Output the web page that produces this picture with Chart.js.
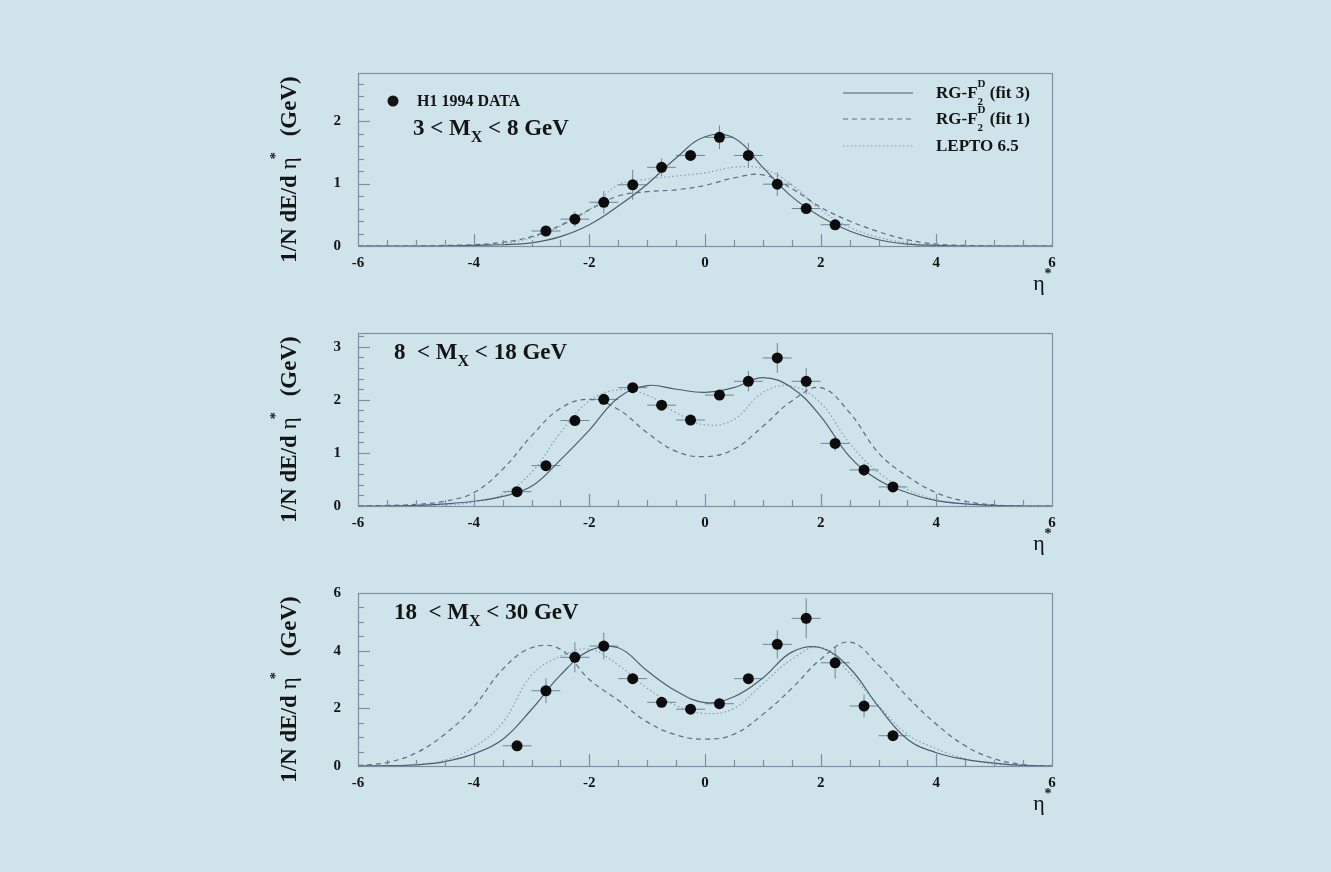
<!DOCTYPE html>
<html lang="de">
<head>
<meta charset="utf-8">
<title>H1 1994 energy flow</title>
<script src="https://cdn.jsdelivr.net/npm/chart.js@4.4.1/dist/chart.umd.min.js"></script>
<style>
  body { margin: 0; background: #cfe4ea; }
  #page { position: relative; width: 1331px; height: 872px; overflow: hidden; background: #cfe4ea; }
  #page canvas { position: absolute; left: 0; }
</style>
</head>
<body>
<div id="page">
  <canvas id="low" width="1331" height="260" style="top:40px"></canvas>
  <canvas id="mid" width="1331" height="260" style="top:300px"></canvas>
  <canvas id="high" width="1331" height="260" style="top:560px"></canvas>
</div>
<script>
const etaGrid = [-6, -5.5, -5, -4.5, -4, -3.5, -3, -2.5, -2, -1.5, -1, -0.5, 0,
                 0.5, 1, 1.5, 2, 2.5, 3, 3.5, 4, 4.5, 5, 5.5, 6];

// 3 < MX < 8 GeV
const lowBins  = [-2.75, -2.25, -1.75, -1.25, -0.75, -0.25, 0.25, 0.75, 1.25, 1.75, 2.25];
const lowData  = [0.24, 0.43, 0.70, 0.98, 1.26, 1.45, 1.74, 1.45, 0.99, 0.60, 0.34];
const lowErr   = [0.07, 0.12, 0.18, 0.24, 0.14, 0.09, 0.19, 0.20, 0.19, 0.08, 0.05];
const lowFit3  = [0, 0, 0, 0, 0.01, 0.02, 0.05, 0.15, 0.34, 0.64, 0.99, 1.41, 1.75, 1.73, 1.26, 0.79, 0.47, 0.24, 0.10, 0.03, 0.01, 0, 0, 0, 0];
const lowFit1  = [0, 0, 0, 0.01, 0.02, 0.06, 0.15, 0.33, 0.58, 0.80, 0.87, 0.90, 0.97, 1.09, 1.14, 0.92, 0.62, 0.40, 0.23, 0.10, 0.03, 0.01, 0, 0, 0];
const lowLepto = [0, 0, 0, 0, 0.01, 0.04, 0.13, 0.32, 0.58, 0.98, 1.07, 1.12, 1.17, 1.26, 1.24, 0.98, 0.58, 0.30, 0.14, 0.05, 0.01, 0, 0, 0, 0];

// 8 < MX < 18 GeV
const midBins  = [-3.25, -2.75, -2.25, -1.75, -1.25, -0.75, -0.25, 0.25, 0.75, 1.25, 1.75, 2.25, 2.75, 3.25];
const midData  = [0.27, 0.76, 1.61, 2.01, 2.23, 1.90, 1.62, 2.09, 2.35, 2.79, 2.35, 1.18, 0.68, 0.36];
const midErr   = [0.05, 0.07, 0.09, 0.10, 0.07, 0.06, 0.05, 0.05, 0.19, 0.28, 0.25, 0.14, 0.12, 0.05];
const midFit3  = [0, 0, 0.01, 0.04, 0.09, 0.18, 0.37, 0.87, 1.43, 2.04, 2.27, 2.20, 2.14, 2.23, 2.42, 2.23, 1.69, 0.93, 0.49, 0.25, 0.10, 0.04, 0.01, 0, 0];
const midFit1  = [0, 0.01, 0.03, 0.09, 0.25, 0.69, 1.32, 1.84, 2.01, 1.82, 1.38, 1.03, 0.93, 1.07, 1.50, 1.98, 2.23, 1.76, 1.00, 0.56, 0.25, 0.09, 0.02, 0, 0];
const midLepto = [0, 0, 0.01, 0.02, 0.07, 0.22, 0.63, 1.38, 1.98, 2.19, 2.09, 1.76, 1.53, 1.63, 2.14, 2.26, 1.94, 1.18, 0.63, 0.31, 0.12, 0.04, 0.01, 0, 0];

// 18 < MX < 30 GeV
const highBins  = [-3.25, -2.75, -2.25, -1.75, -1.25, -0.75, -0.25, 0.25, 0.75, 1.25, 1.75, 2.25, 2.75, 3.25];
const highData  = [0.70, 2.61, 3.77, 4.16, 3.03, 2.21, 1.97, 2.16, 3.03, 4.22, 5.12, 3.58, 2.08, 1.05];
const highErr   = [0.05, 0.43, 0.52, 0.46, 0.10, 0.10, 0.10, 0.10, 0.10, 0.49, 0.69, 0.55, 0.40, 0.10];
const highFit3  = [0, 0.01, 0.04, 0.15, 0.42, 0.92, 1.96, 3.15, 4.00, 4.10, 3.30, 2.60, 2.20, 2.40, 3.05, 3.95, 4.10, 3.40, 2.06, 0.93, 0.46, 0.23, 0.10, 0.02, 0];
const highFit1  = [0.02, 0.12, 0.45, 1.10, 2.05, 3.35, 4.10, 4.05, 3.00, 2.28, 1.53, 1.08, 0.93, 1.10, 1.79, 2.69, 3.70, 4.30, 3.50, 2.40, 1.45, 0.70, 0.25, 0.05, 0];
const highLepto = [0, 0.01, 0.05, 0.20, 0.65, 1.50, 3.15, 3.80, 4.05, 3.50, 2.70, 2.10, 1.82, 2.00, 2.85, 3.70, 4.12, 3.22, 2.10, 1.10, 0.60, 0.25, 0.07, 0.01, 0];

const HALF_BIN = 0.25;

const SERIF = '"Liberation Serif", "Times New Roman", serif';
const INK = '#141414';
const FRAME = '#7a91a1';
const ERRBAR = '#6f8595';
const SOLID = '#4c5f6e';
const DASHED = '#587083';
const DOTTED = '#86a0b3';

const PANELS = {
  low:  { bins: lowBins,  data: lowData,  err: lowErr,  fit3: lowFit3,  fit1: lowFit1,  lepto: lowLepto,
          yMax: 2.77, yStep: 1, yMinor: 0.2, pre: '3 < ', post: ' < 8 GeV', legend: true },
  mid:  { bins: midBins,  data: midData,  err: midErr,  fit3: midFit3,  fit1: midFit1,  lepto: midLepto,
          yMax: 3.26, yStep: 1, yMinor: 0.2, pre: '8  < ', post: ' < 18 GeV' },
  high: { bins: highBins, data: highData, err: highErr, fit3: highFit3, fit1: highFit1, lepto: highLepto,
          yMax: 6, yStep: 2, yMinor: 0.5, pre: '18  < ', post: ' < 30 GeV' }
};

function line(ctx, x0, y0, x1, y1) {
  ctx.beginPath();
  ctx.moveTo(x0, y0);
  ctx.lineTo(x1, y1);
  ctx.stroke();
}

// RG-F with stacked D / 2 scripts
function drawRG(ctx, x, y, tail) {
  ctx.font = `bold 17px ${SERIF}`;
  ctx.fillText('RG-F', x, y);
  x += ctx.measureText('RG-F').width;
  ctx.font = `bold 11px ${SERIF}`;
  ctx.fillText('D', x, y - 11);
  ctx.fillText('2', x, y + 7);
  x += ctx.measureText('D').width;
  ctx.font = `bold 17px ${SERIF}`;
  ctx.fillText(tail, x, y);
}

function drawMx(ctx, x, y, pre, post) {
  ctx.font = `bold 23px ${SERIF}`;
  ctx.fillText(pre + 'M', x, y);
  x += ctx.measureText(pre + 'M').width;
  ctx.font = `bold 16px ${SERIF}`;
  ctx.fillText('X', x, y + 7);
  x += ctx.measureText('X').width;
  ctx.font = `bold 23px ${SERIF}`;
  ctx.fillText(post, x, y);
}

function drawYTitle(ctx, a) {
  const cy = (a.top + a.bottom) / 2 + 10;
  ctx.save();
  ctx.translate(296, cy);
  ctx.rotate(-Math.PI / 2);
  const bold = `bold 23px ${SERIF}`;
  const reg = `23px ${SERIF}`;
  const star = `bold 14px ${SERIF}`;
  ctx.font = bold; const w1 = ctx.measureText('1/N dE/d').width;
  ctx.font = reg;  const w2 = ctx.measureText(' \u03B7').width;
  ctx.font = star; const w3 = ctx.measureText('*').width;
  ctx.font = bold; const w4 = ctx.measureText('(GeV)').width;
  const gap = 14;
  let x = -(w1 + w2 + w3 + gap + w4) / 2;
  ctx.textBaseline = 'alphabetic';
  ctx.textAlign = 'left';
  ctx.font = bold; ctx.fillText('1/N dE/d', x, 0); x += w1;
  ctx.font = reg;  ctx.fillText(' \u03B7', x, 0); x += w2;
  ctx.font = star; ctx.fillText('*', x - 2, -16); x += w3;
  x += gap;
  ctx.font = bold; ctx.fillText('(GeV)', x, 0);
  ctx.restore();
}

const hepStyle = {
  id: 'hepStyle',
  beforeDatasetsDraw(chart) {
    const p = PANELS[chart.canvas.id];
    const { ctx, scales: { x, y } } = chart;
    ctx.save();
    ctx.strokeStyle = ERRBAR;
    ctx.lineWidth = 1;
    p.bins.forEach((b, i) => {
      const cx = x.getPixelForValue(b);
      const cy = y.getPixelForValue(p.data[i]);
      line(ctx, x.getPixelForValue(b - HALF_BIN), cy, x.getPixelForValue(b + HALF_BIN), cy);
      line(ctx, cx, y.getPixelForValue(p.data[i] - p.err[i]), cx, y.getPixelForValue(p.data[i] + p.err[i]));
    });
    ctx.restore();
  },
  afterDatasetsDraw(chart) {
    const p = PANELS[chart.canvas.id];
    const { ctx, chartArea: a, scales: { x, y } } = chart;
    ctx.save();
    ctx.strokeStyle = FRAME;
    ctx.lineWidth = 1.2;
    ctx.strokeRect(Math.round(a.left) + 0.5, Math.round(a.top) + 0.5,
                   Math.round(a.width), Math.round(a.height));
    // inward ticks, x every 0.5, long at even values
    for (let v = -5.5; v < 6; v += 0.5) {
      const px = Math.round(x.getPixelForValue(v)) + 0.5;
      const len = Math.abs(v % 2) < 1e-6 ? 12 : 6;
      line(ctx, px, a.bottom, px, a.bottom - len);
    }
    for (let v = p.yMinor; v < p.yMax; v += p.yMinor) {
      const py = Math.round(y.getPixelForValue(v)) + 0.5;
      const r = v / p.yStep;
      const len = Math.abs(r - Math.round(r)) < 1e-6 ? 12 : 6;
      line(ctx, a.left, py, a.left + len, py);
    }
    ctx.restore();
  },
  afterDraw(chart) {
    const p = PANELS[chart.canvas.id];
    const { ctx, chartArea: a } = chart;
    ctx.save();
    ctx.fillStyle = INK;
    ctx.textAlign = 'left';
    ctx.textBaseline = 'alphabetic';

    drawYTitle(ctx, a);

    // eta* axis title
    ctx.font = `22px ${SERIF}`;
    ctx.textAlign = 'center';
    ctx.fillText('\u03B7', a.right - 13, a.bottom + 44);
    ctx.font = `bold 14px ${SERIF}`;
    ctx.fillText('*', a.right - 4, a.bottom + 32);
    ctx.textAlign = 'left';

    if (p.legend) {
      // data marker entry
      ctx.beginPath();
      ctx.arc(a.left + 35, a.top + 28, 5.5, 0, Math.PI * 2);
      ctx.fill();
      ctx.font = `bold 16px ${SERIF}`;
      ctx.fillText('H1 1994 DATA', a.left + 59, a.top + 33);
      drawMx(ctx, a.left + 55, a.top + 62, p.pre, p.post);

      // model entries
      const rows = [
        { dy: 20, color: SOLID, dash: [], draw: yy => drawRG(ctx, a.left + 578, yy, ' (fit 3)') },
        { dy: 46, color: DASHED, dash: [5, 4], draw: yy => drawRG(ctx, a.left + 578, yy, ' (fit 1)') },
        { dy: 73, color: DOTTED, dash: [1.5, 2.5], draw: yy => {
            ctx.font = `bold 17px ${SERIF}`;
            ctx.fillText('LEPTO 6.5', a.left + 578, yy);
          } }
      ];
      rows.forEach(r => {
        const yy = a.top + r.dy;
        ctx.save();
        ctx.strokeStyle = r.color;
        ctx.lineWidth = 1.2;
        ctx.setLineDash(r.dash);
        line(ctx, a.left + 485, yy, a.left + 555, yy);
        ctx.restore();
        r.draw(yy + 5);
      });
    } else {
      drawMx(ctx, a.left + 36, a.top + 26, p.pre, p.post);
    }
    ctx.restore();
  }
};

function curve(label, values, color, dash) {
  return {
    label,
    data: etaGrid.map((e, i) => ({ x: e, y: values[i] })),
    showLine: true,
    pointRadius: 0,
    borderColor: color,
    borderWidth: 1.2,
    borderDash: dash,
    tension: 0.4,
    fill: false
  };
}

function makePanel(id) {
  const p = PANELS[id];
  const tickFont = { family: SERIF, size: 15, weight: 'bold' };
  return new Chart(document.getElementById(id), {
    type: 'scatter',
    data: {
      datasets: [
        {
          label: 'H1 1994 DATA',
          data: p.bins.map((b, i) => ({ x: b, y: p.data[i] })),
          pointRadius: 5.5,
          pointBackgroundColor: '#0c0c0c',
          pointBorderWidth: 0
        },
        curve('RG-F2D (fit 3)', p.fit3, SOLID, []),
        curve('RG-F2D (fit 1)', p.fit1, DASHED, [5, 4]),
        curve('LEPTO 6.5', p.lepto, DOTTED, [1.5, 2.5])
      ]
    },
    options: {
      responsive: false,
      animation: false,
      layout: { padding: { top: 33, right: 279, bottom: 0, left: 0 } },
      plugins: { legend: { display: false }, tooltip: { enabled: false } },
      scales: {
        x: {
          type: 'linear',
          min: -6,
          max: 6,
          grid: { display: false, drawTicks: false },
          border: { display: false },
          ticks: { stepSize: 2, autoSkip: false, includeBounds: false, maxRotation: 0,
                   padding: 8, color: INK, font: tickFont },
          afterFit: s => { s.height = 54; }
        },
        y: {
          type: 'linear',
          min: 0,
          max: p.yMax,
          grid: { display: false, drawTicks: false },
          border: { display: false },
          ticks: { stepSize: p.yStep, autoSkip: false, includeBounds: false,
                   padding: 17, color: INK, font: tickFont },
          afterFit: s => { s.width = 358; }
        }
      }
    },
    plugins: [hepStyle]
  });
}

makePanel('low');
makePanel('mid');
makePanel('high');
</script>
</body>
</html>
